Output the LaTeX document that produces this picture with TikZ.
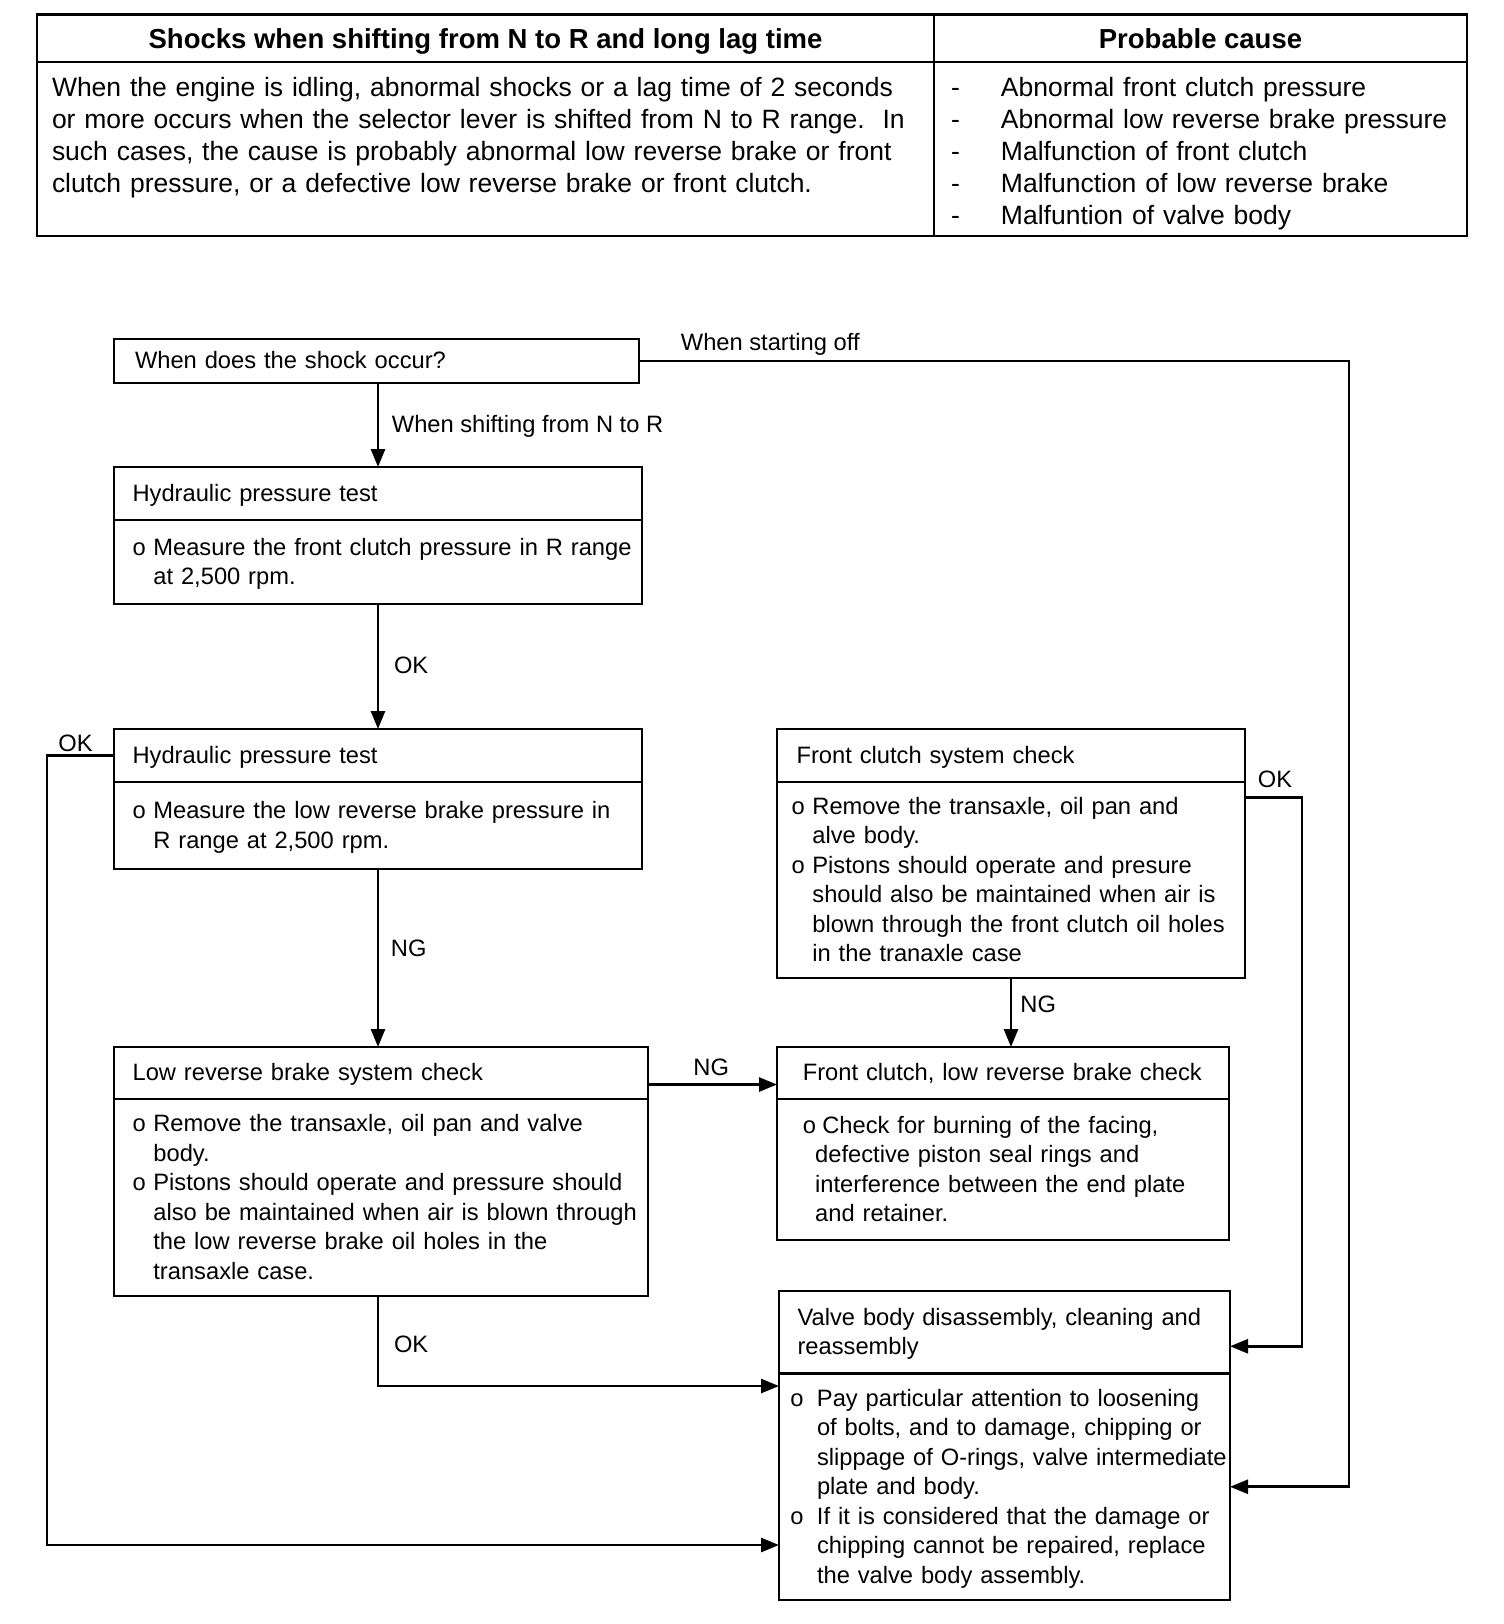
\documentclass[tikz,border=0pt]{standalone}
\usepackage{fontspec}
\setmainfont{Liberation Sans}
\usetikzlibrary{arrows.meta,calc}
\setlength{\parindent}{0pt}
\newcommand\boxfont{\fontsize{11.85pt}{14.75pt}\selectfont}
\newcommand\tabfont{\fontsize{13.25pt}{16pt}\selectfont}
\newcommand\headfont{\fontsize{13.75pt}{16pt}\selectfont\bfseries}
\newcommand\bo[2][10.4pt]{\makebox[#1][l]{o}#2}
\newcommand\bc[2][10.4pt]{\hspace*{#1}#2}
% text block lowered a little without changing its reported size
\newcommand\lowered[2]{\raisebox{-#1}[\height][\depth]{#2}}
\tikzset{
  bx/.style={draw, line width=1.4pt, outer sep=0pt, anchor=north west, inner ysep=0pt, align=left, font=\boxfont},
  cell/.style={draw, line width=1.1pt, outer sep=0pt, anchor=north west, inner ysep=0pt, font=\tabfont},
  conn/.style={line width=1.35pt},
  arr/.style={conn, -{Triangle[length=9pt,width=7pt]}},
  lbl/.style={font=\boxfont, anchor=west, inner sep=0pt},
}
\begin{document}
\begin{tikzpicture}[x=0.5pt,y=-0.5pt]
\useasboundingbox (0,0) rectangle (1504,1624);
\fill[white] (0,0) rectangle (1504,1624);

% ---------- table ----------
\node[cell, minimum width=448.5pt, minimum height=23.75pt, align=center, font=\headfont, text height=9.9pt, text depth=0pt] (th1) at (37,14.5)
  {Shocks when shifting from N to R and long lag time};
\node[cell, minimum width=266.5pt, minimum height=23.75pt, align=center, font=\headfont, text height=9.9pt, text depth=0pt] (th2) at (934,14.5)
  {Probable cause};
\node[cell, minimum width=448.5pt, minimum height=87pt, inner xsep=7.5pt, text width=433.5pt, align=left] (tb1) at (th1.south west)
  {\lowered{2.5pt}{\begin{tabular}{@{}l@{}}
  When the engine is idling, abnormal shocks or a lag time of 2 seconds\\
  or more occurs when the selector lever is shifted from N to R range.\ \ In\\
  such cases, the cause is probably abnormal low reverse brake or front\\
  clutch pressure, or a defective low reverse brake or front clutch.\\
  \mbox{}
  \end{tabular}}};
\node[cell, minimum width=266.5pt, minimum height=87pt, inner xsep=8.5pt, text width=249.5pt, align=left] (tb2) at (th2.south west)
  {\lowered{2.5pt}{\begin{tabular}{@{}p{25pt}@{}l@{}}
  - & Abnormal front clutch pressure\\
  - & Abnormal low reverse brake pressure\\
  - & Malfunction of front clutch\\
  - & Malfunction of low reverse brake\\
  - & Malfuntion of valve body
  \end{tabular}}};

% ---------- flowchart boxes ----------
\node[bx, minimum width=262.5pt, minimum height=22pt, inner xsep=10.5pt, text width=241.5pt] (b1) at (114,339)
  {\lowered{1pt}{\begin{tabular}{@{}l@{}}When does the shock occur?\end{tabular}}};

\node[bx, minimum width=264pt, minimum height=26.5pt, inner xsep=9.3pt, text width=245.4pt] (b2t) at (114,467)
  {\lowered{1pt}{\begin{tabular}{@{}l@{}}Hydraulic pressure test\end{tabular}}};
\node[bx, minimum width=264pt, minimum height=42pt, inner xsep=9.3pt, text width=245.4pt] (b2b) at (b2t.south west)
  {\lowered{1pt}{\begin{tabular}{@{}l@{}}\bo{Measure the front clutch pressure in R range}\\ \bc{at 2,500 rpm.}\end{tabular}}};

\node[bx, minimum width=264pt, minimum height=26.5pt, inner xsep=9.3pt, text width=245.4pt] (b3t) at (114,729)
  {\lowered{1pt}{\begin{tabular}{@{}l@{}}Hydraulic pressure test\end{tabular}}};
\node[bx, minimum width=264pt, minimum height=43.5pt, inner xsep=9.3pt, text width=245.4pt] (b3b) at (b3t.south west)
  {\lowered{1pt}{\begin{tabular}{@{}l@{}}\bo{Measure the low reverse brake pressure in}\\ \bc{R range at 2,500 rpm.}\end{tabular}}};

\node[bx, minimum width=267pt, minimum height=26pt, inner xsep=9.3pt, text width=248.4pt] (b4t) at (114,1047)
  {\lowered{1pt}{\begin{tabular}{@{}l@{}}Low reverse brake system check\end{tabular}}};
\node[bx, minimum width=267pt, minimum height=98.5pt, inner xsep=9.3pt, text width=248.4pt] (b4b) at (b4t.south west)
  {\lowered{1pt}{\begin{tabular}{@{}l@{}}
  \bo{Remove the transaxle, oil pan and valve}\\
  \bc{body.}\\
  \bo{Pistons should operate and pressure should}\\
  \bc{also be maintained when air is blown through}\\
  \bc{the low reverse brake oil holes in the}\\
  \bc{transaxle case.}
  \end{tabular}}};

\node[bx, minimum width=234pt, minimum height=26.5pt, inner xsep=9.8pt, text width=214.4pt] (b7t) at (777,729)
  {\lowered{1pt}{\begin{tabular}{@{}l@{}}Front clutch system check\end{tabular}}};
\node[bx, minimum width=234pt, minimum height=98pt, inner xsep=7.3pt, text width=219.4pt] (b7b) at (b7t.south west)
  {\lowered{1pt}{\begin{tabular}{@{}l@{}}
  \bo{Remove the transaxle, oil pan and}\\
  \bc{alve body.}\\
  \bo{Pistons should operate and presure}\\
  \bc{should also be maintained when air is}\\
  \bc{blown through the front clutch oil holes}\\
  \bc{in the tranaxle case}
  \end{tabular}}};

\node[bx, minimum width=226pt, minimum height=26pt, inner xsep=12.9pt, text width=200.2pt] (b5t) at (777,1047)
  {\lowered{1pt}{\begin{tabular}{@{}l@{}}Front clutch, low reverse brake check\end{tabular}}};
\node[bx, minimum width=226pt, minimum height=70.5pt, inner xsep=12.9pt, text width=200.2pt] (b5b) at (b5t.south west)
  {\lowered{1pt}{\begin{tabular}{@{}l@{}}
  \bo[9.8pt]{Check for burning of the facing,}\\
  \bc[6.2pt]{defective piston seal rings and}\\
  \bc[6.2pt]{interference between the end plate}\\
  \bc[6.2pt]{and retainer.}
  \end{tabular}}};

\node[bx, minimum width=225.5pt, minimum height=41.25pt, inner xsep=9.3pt, text width=206.9pt] (b6t) at (779,1291)
  {\lowered{1pt}{\begin{tabular}{@{}l@{}}Valve body disassembly, cleaning and\\ reassembly\end{tabular}}};
\node[bx, minimum width=225.5pt, minimum height=113.25pt, inner xsep=5.7pt, text width=214.1pt] (b6b) at (b6t.south west)
  {\lowered{1pt}{\begin{tabular}{@{}l@{}}
  \bo[13.3pt]{Pay particular attention to loosening}\\
  \bc[13.3pt]{of bolts, and to damage, chipping or}\\
  \bc[13.3pt]{slippage of O-rings, valve intermediate}\\
  \bc[13.3pt]{plate and body.}\\
  \bo[13.3pt]{If it is considered that the damage or}\\
  \bc[13.3pt]{chipping cannot be repaired, replace}\\
  \bc[13.3pt]{the valve body assembly.}
  \end{tabular}}};

% ---------- labels ----------
\node[lbl] (lstart) at (680.5,344) {When starting off};
\node[lbl] (lshift) at (391.5,426) {When shifting from N to R};
\node[lbl] (lok1) at (393.6,665) {OK};
\node[lbl] (lok2) at (58,743.7) {OK};
\node[lbl] (lng1) at (390.5,948.8) {NG};
\node[lbl] (lng2) at (693,1067) {NG};
\node[lbl] (lok3) at (393.6,1344.5) {OK};
\node[lbl] (lok4) at (1257.5,779) {OK};
\node[lbl] (lng3) at (1020,1004.7) {NG};

% ---------- connectors ----------
\coordinate (lx) at (47,0);
\coordinate (rx) at (1349,0);
\coordinate (rx2) at (1302,0);
\coordinate (e3) at ($(b6b.south west)+(0,-55)$);
\coordinate (e4) at ($(b6b.north west)+(0,12.5)$);
\coordinate (s7) at ($(b7b.north east)+(0,15.6)$);
\coordinate (e7) at ($(b6t.east)+(0,14)$);

\draw[arr] (b2t.north |- b1.south) -- (b2t.north);
\draw[arr] (b2b.south) -- (b3t.north);
\draw[arr] (b3b.south) -- (b3b.south |- b4t.north);
\draw[arr] (b7b.south) -- (b7b.south |- b5t.north);
\draw[arr] ($(b4t.east)+(0,11.5)$) -- ($(b5t.west)+(0,11.5)$);
\draw[arr] (b3b.south |- b4b.south) |- (e4);
\draw[arr] (b3t.west) -- (b3t.west -| lx) |- (e3);
\draw[arr] (b1.east) -- (b1.east -| rx) |- (b6b.east);
\draw[arr] (s7) -- (s7 -| rx2) |- (e7);
\end{tikzpicture}
\end{document}
